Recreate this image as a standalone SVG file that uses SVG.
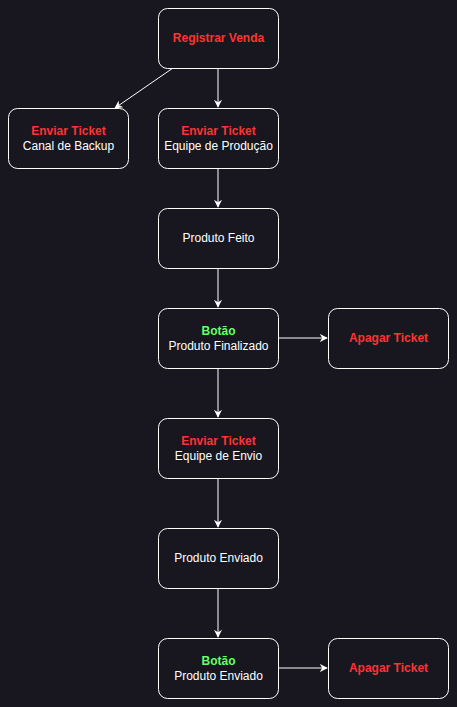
<svg xmlns="http://www.w3.org/2000/svg" width="457" height="707" viewBox="0 0 457 707">
<defs>
<marker id="arr" viewBox="0 0 10 10" refX="9" refY="5" markerWidth="8" markerHeight="8" markerUnits="userSpaceOnUse" orient="auto">
<path d="M0,0 L10,5 L0,10 L3,5 Z" fill="#ffffff"/>
</marker>
<style>
.box{fill:#18161f;stroke:#ffffff;stroke-width:1}
text{font-family:"Liberation Sans",Arial,sans-serif;font-size:12px;text-anchor:middle}
.w{fill:#ffffff}
.r{fill:#ff3333;font-weight:bold}
.g{fill:#66ff66;font-weight:bold}
.c{fill:none;stroke:#ffffff;stroke-width:1;marker-end:url(#arr)}
</style>
</defs>
<rect width="457" height="707" fill="#18161f"/>
<g id="connectors">
<line class="c" x1="173" y1="68" x2="115" y2="108"/>
<line class="c" x1="218" y1="68" x2="218" y2="107"/>
<line class="c" x1="218" y1="168" x2="218" y2="207"/>
<line class="c" x1="218" y1="268" x2="218" y2="307"/>
<line class="c" x1="278" y1="338" x2="327" y2="338"/>
<line class="c" x1="218" y1="368" x2="218" y2="417"/>
<line class="c" x1="218" y1="478" x2="218" y2="527"/>
<line class="c" x1="218" y1="588" x2="218" y2="637"/>
<line class="c" x1="278" y1="668" x2="327" y2="668"/>
</g>
<g id="registrar">
<rect class="box" x="158.5" y="8.5" width="120" height="60" rx="9"/>
<text class="r" x="218.5" y="41.5">Registrar Venda</text>
</g>
<g id="backup">
<rect class="box" x="8.5" y="108.5" width="120" height="60" rx="9"/>
<text class="r" x="68.5" y="135">Enviar Ticket</text>
<text class="w" x="68.5" y="150">Canal de Backup</text>
</g>
<g id="producao">
<rect class="box" x="158.5" y="108.5" width="120" height="60" rx="9"/>
<text class="r" x="218.5" y="135">Enviar Ticket</text>
<text class="w" x="218.5" y="150">Equipe de Produção</text>
</g>
<g id="feito">
<rect class="box" x="158.5" y="208.5" width="120" height="60" rx="9"/>
<text class="w" x="218.5" y="241.5">Produto Feito</text>
</g>
<g id="finalizado">
<rect class="box" x="158.5" y="308.5" width="120" height="60" rx="9"/>
<text class="g" x="218.5" y="335">Botão</text>
<text class="w" x="218.5" y="350">Produto Finalizado</text>
</g>
<g id="apagar1">
<rect class="box" x="328.5" y="308.5" width="120" height="60" rx="9"/>
<text class="r" x="388.5" y="341.5">Apagar Ticket</text>
</g>
<g id="envio">
<rect class="box" x="158.5" y="418.5" width="120" height="60" rx="9"/>
<text class="r" x="218.5" y="445">Enviar Ticket</text>
<text class="w" x="218.5" y="460">Equipe de Envio</text>
</g>
<g id="enviado">
<rect class="box" x="158.5" y="528.5" width="120" height="60" rx="9"/>
<text class="w" x="218.5" y="561.5">Produto Enviado</text>
</g>
<g id="botao2">
<rect class="box" x="158.5" y="638.5" width="120" height="60" rx="9"/>
<text class="g" x="218.5" y="665">Botão</text>
<text class="w" x="218.5" y="680">Produto Enviado</text>
</g>
<g id="apagar2">
<rect class="box" x="328.5" y="638.5" width="120" height="60" rx="9"/>
<text class="r" x="388.5" y="671.5">Apagar Ticket</text>
</g>
</svg>
